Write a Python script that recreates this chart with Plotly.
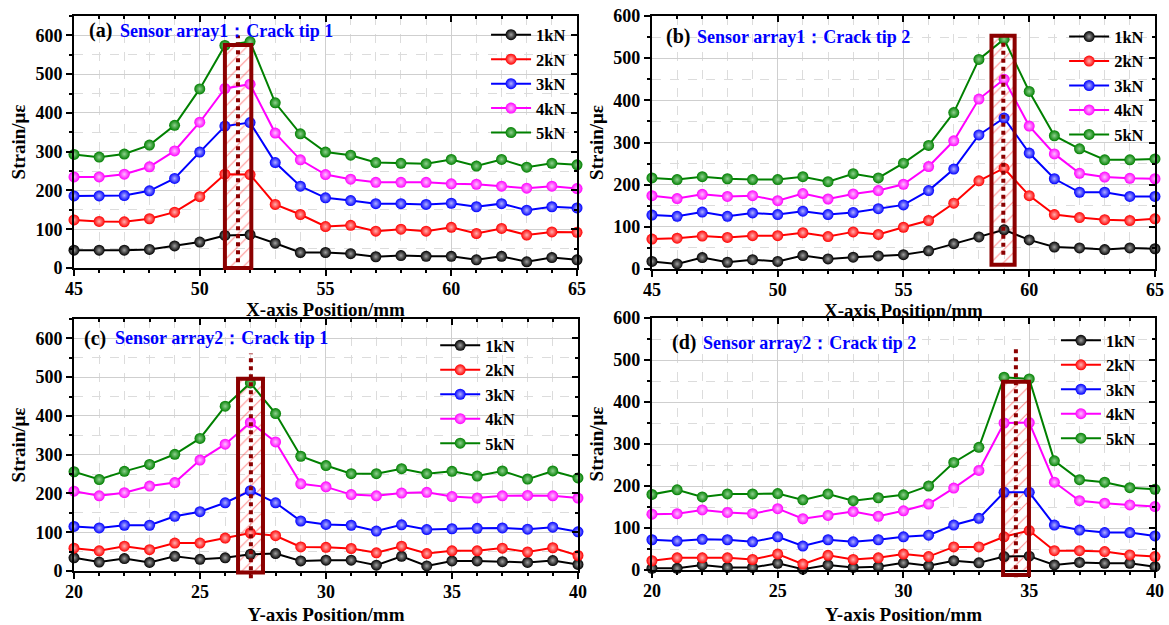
import plotly.graph_objects as go

# ---------------- data ----------------
x_a = [45, 46, 47, 48, 49, 50, 51, 52, 53, 54, 55, 56, 57, 58, 59, 60, 61, 62, 63, 64, 65]
x_c = [20, 21, 22, 23, 24, 25, 26, 27, 28, 29, 30, 31, 32, 33, 34, 35, 36, 37, 38, 39, 40]

loads = ["1kN", "2kN", "3kN", "4kN", "5kN"]

a_1kN = [46, 46, 46, 48, 57, 67, 84, 86, 64, 40, 40, 37, 29, 32, 30, 30, 21, 30, 16, 27, 21]
a_2kN = [124, 120, 119, 127, 144, 184, 242, 241, 164, 138, 107, 110, 95, 100, 95, 105, 89, 102, 85, 93, 92]
a_3kN = [186, 186, 187, 199, 231, 299, 366, 375, 272, 211, 181, 174, 166, 166, 164, 167, 158, 166, 149, 158, 155]
a_4kN = [235, 235, 242, 261, 302, 376, 463, 474, 348, 279, 241, 229, 221, 221, 221, 217, 216, 211, 206, 211, 205]
a_5kN = [293, 286, 294, 317, 368, 462, 574, 584, 426, 346, 299, 291, 272, 270, 269, 280, 263, 280, 260, 270, 266]

b_1kN = [18, 12, 27, 16, 22, 18, 32, 24, 28, 31, 34, 43, 60, 76, 93, 69, 52, 50, 46, 50, 48]
b_2kN = [71, 73, 78, 75, 79, 79, 86, 77, 88, 82, 99, 115, 156, 209, 239, 174, 129, 122, 117, 115, 119]
b_3kN = [128, 125, 135, 125, 133, 129, 137, 129, 134, 143, 152, 186, 237, 318, 358, 275, 214, 182, 182, 172, 172]
b_4kN = [174, 167, 177, 172, 174, 162, 179, 166, 178, 186, 201, 243, 304, 403, 450, 339, 273, 227, 218, 215, 214]
b_5kN = [216, 212, 219, 214, 212, 212, 219, 207, 226, 216, 251, 293, 371, 497, 545, 421, 316, 285, 259, 259, 261]

c_1kN = [34, 23, 32, 22, 38, 30, 34, 43, 45, 26, 28, 28, 15, 38, 13, 26, 26, 24, 22, 27, 17]
c_2kN = [59, 52, 64, 55, 72, 72, 85, 98, 91, 62, 61, 58, 47, 64, 45, 52, 52, 59, 49, 60, 40]
c_3kN = [115, 111, 118, 118, 141, 153, 176, 207, 176, 129, 120, 118, 103, 119, 107, 109, 110, 111, 108, 113, 101]
c_4kN = [206, 194, 202, 219, 228, 286, 327, 383, 333, 225, 217, 197, 194, 201, 203, 192, 188, 194, 195, 194, 188]
c_5kN = [256, 236, 257, 275, 301, 342, 425, 485, 406, 296, 272, 251, 251, 264, 251, 257, 245, 258, 237, 258, 240]

d_1kN = [4, 4, 12, 6, 6, 16, 2, 12, 6, 8, 17, 10, 22, 17, 32, 33, 12, 18, 16, 16, 8]
d_2kN = [22, 29, 29, 29, 25, 38, 14, 35, 25, 29, 38, 32, 55, 55, 79, 94, 46, 46, 44, 36, 32]
d_3kN = [72, 69, 73, 72, 67, 79, 57, 72, 67, 72, 79, 83, 107, 123, 185, 185, 107, 95, 89, 89, 81]
d_4kN = [133, 134, 143, 137, 134, 146, 122, 130, 139, 128, 141, 157, 195, 237, 350, 351, 209, 165, 159, 155, 151]
d_5kN = [180, 191, 174, 181, 181, 182, 167, 181, 165, 172, 179, 200, 256, 292, 459, 455, 260, 215, 209, 196, 192]

# highlighted crack-tip windows: [x0, x1, y_bottom, y_top]; dotted line [x, y_bottom, y_top]
box_a = [51.0, 52.05, 0, 575]
box_b = [58.5, 59.42, 10, 553]
box_c = [26.51, 27.5, -4, 496]
box_d = [33.96, 34.99, -12, 448]
dot_a = [51.52, 15, 600]
dot_b = [58.97, 34, 545]
dot_c = [27.02, -19, 561]
dot_d = [34.47, -17, 526]

labels = ["(a)", "(b)", "(c)", "(d)"]
subtitles = ["Sensor array1：Crack tip 1", "Sensor array1：Crack tip 2",
             "Sensor array2：Crack tip 1", "Sensor array2：Crack tip 2"]
x_titles = ["X-axis Position/mm", "X-axis Position/mm", "Y-axis Position/mm", "Y-axis Position/mm"]
y_title = "Strain/\u03bc\u03b5"

# ---------------- styling ----------------
FONT = "Liberation Serif"
colors = ["#000000", "#FF0000", "#0000FF", "#FF00FF", "#008000"]
centers = ["#a0a0a0", "#ffb0b0", "#b0b0ff", "#ffc0ff", "#90d090"]
BOX = "#8B0000"

panels = [
    dict(x=x_a, s=[a_1kN, a_2kN, a_3kN, a_4kN, a_5kN], xr=[45, 65], yr=[0, 650],
         dom_x=[0.0633, 0.4936], dom_y=[0.5712, 0.9744], box=box_a, dot=dot_a,
         lab=(13, 15), leg=(0.4885, 0.972), xst=0),
    dict(x=x_a, s=[b_1kN, b_2kN, b_3kN, b_4kN, b_5kN], xr=[45, 65], yr=[0, 600],
         dom_x=[0.5577, 0.9880], dom_y=[0.5696, 0.9744], box=box_b, dot=dot_b,
         lab=(12, 21), leg=(0.9830, 0.969), xst=0),
    dict(x=x_c, s=[c_1kN, c_2kN, c_3kN, c_4kN, c_5kN], xr=[20, 40], yr=[0, 650],
         dom_x=[0.0633, 0.4944], dom_y=[0.0864, 0.4896], box=box_c, dot=dot_c,
         lab=(8, 19), leg=(0.4450, 0.475), xst=10),
    dict(x=x_c, s=[d_1kN, d_2kN, d_3kN, d_4kN, d_5kN], xr=[20, 40], yr=[0, 600],
         dom_x=[0.5577, 0.9880], dom_y=[0.0880, 0.4912], box=box_d, dot=dot_d,
         lab=(18, 25), leg=(0.9760, 0.483), xst=10),
]

fig = go.Figure()
shapes = []
annotations = []
layout = dict(
    width=1169, height=625, margin=dict(l=0, r=0, t=0, b=0, autoexpand=False),
    paper_bgcolor="white", plot_bgcolor="white",
    font=dict(family=FONT, color="black"),
)

for i, p in enumerate(panels, start=1):
    xa = "x" if i == 1 else f"x{i}"
    ya = "y" if i == 1 else f"y{i}"
    leg = "legend" if i == 1 else f"legend{i}"
    x0, x1, yb, yt = p["box"]
    # hatched window
    fig.add_trace(go.Scatter(
        x=[x0, x1, x1, x0, x0], y=[yb, yb, yt, yt, yb], mode="lines",
        fill="toself", fillcolor="rgba(0,0,0,0)",
        fillpattern=dict(shape="/", fgcolor="#FF2020", bgcolor="rgba(0,0,0,0)",
                         size=9, solidity=0.12),
        line=dict(width=0, color="rgba(0,0,0,0)"),
        showlegend=False, hoverinfo="skip", xaxis=xa, yaxis=ya))
    for k, (name, vals) in enumerate(zip(loads, p["s"])):
        fig.add_trace(go.Scatter(
            x=p["x"], y=vals, mode="lines+markers", name=name,
            line=dict(color=colors[k], width=2),
            marker=dict(size=11, color=colors[k], line=dict(width=0),
                        gradient=dict(type="radial", color=centers[k])),
            cliponaxis=False, legend=leg, xaxis=xa, yaxis=ya))
    # overlay axes for inward mirrored ticks
    fig.add_trace(go.Scatter(x=[None], y=[None], showlegend=False, hoverinfo="skip",
                             xaxis=f"x{i+4}", yaxis=f"y{i+4}"))

    ymax = p["yr"][1]
    shapes.append(dict(type="rect", xref=xa, yref=f"{ya} domain",
                       x0=x0, x1=x1, y0=yb / ymax, y1=yt / ymax,
                       line=dict(color=BOX, width=4), fillcolor="rgba(0,0,0,0)", layer="above"))
    dx, dyb, dyt = p["dot"]
    shapes.append(dict(type="line", xref=xa, yref=f"{ya} domain",
                       x0=dx, x1=dx, y0=dyb / ymax, y1=dyt / ymax,
                       line=dict(color=BOX, width=4, dash="4px,4px"), layer="above"))

    common_grid = dict(showgrid=True, gridcolor="#cfcfcf", gridwidth=1, zeroline=False,
                       automargin=False)
    layout[f"xaxis{'' if i == 1 else i}"] = dict(
        domain=p["dom_x"], anchor=ya, range=p["xr"], dtick=5, tick0=0,
        ticks="outside", ticklen=6, tickwidth=2, tickcolor="black",
        showline=True, linecolor="black", linewidth=2, mirror=True,
        ticklabelstandoff=-3,
        tickfont=dict(family=FONT, size=18, color="black", weight="bold"),
        title=dict(text=x_titles[i - 1], standoff=p["xst"],
                   font=dict(family=FONT, size=19, color="black", weight="bold")),
        minor=dict(dtick=1, ticks="outside", ticklen=3, tickwidth=1.5, tickcolor="black",
                   showgrid=True, gridcolor="#dcdcdc", griddash="dash", gridwidth=1),
        **common_grid)
    layout[f"yaxis{'' if i == 1 else i}"] = dict(
        domain=p["dom_y"], anchor=xa, range=p["yr"], dtick=100, tick0=0,
        ticks="outside", ticklen=6, tickwidth=2, tickcolor="black",
        showline=True, linecolor="black", linewidth=2, mirror=True,
        tickfont=dict(family=FONT, size=18, color="black", weight="bold"),
        title=dict(text=y_title, standoff=5,
                   font=dict(family=FONT, size=19, color="black", weight="bold")),
        minor=dict(dtick=50, ticks="outside", ticklen=3, tickwidth=1.5, tickcolor="black",
                   showgrid=True, gridcolor="#dcdcdc", griddash="dash", gridwidth=1),
        **common_grid)
    layout[f"xaxis{i+4}"] = dict(
        overlaying=xa, anchor=f"y{i+4}", side="top", range=p["xr"], dtick=5, tick0=0,
        ticks="inside", ticklen=6, tickwidth=2, tickcolor="black", showticklabels=False,
        showgrid=False, zeroline=False, showline=False, automargin=False,
        minor=dict(dtick=1, ticks="inside", ticklen=3, tickwidth=1.5, tickcolor="black", showgrid=False))
    layout[f"yaxis{i+4}"] = dict(
        overlaying=ya, anchor=f"x{i+4}", side="right", range=p["yr"], dtick=100, tick0=0,
        ticks="inside", ticklen=6, tickwidth=2, tickcolor="black", showticklabels=False,
        showgrid=False, zeroline=False, showline=False, automargin=False,
        minor=dict(dtick=50, ticks="inside", ticklen=3, tickwidth=1.5, tickcolor="black", showgrid=False))

    lx, ly = p["lab"]
    annotations.append(dict(
        xref=f"{xa} domain", yref=f"{ya} domain", x=0, y=1, xanchor="left", yanchor="middle",
        xshift=lx, yshift=-ly, showarrow=False,
        text=f"<b>{labels[i-1]}</b>", font=dict(family=FONT, size=20, color="black")))
    annotations.append(dict(
        xref=f"{xa} domain", yref=f"{ya} domain", x=0, y=1, xanchor="left", yanchor="middle",
        xshift=lx + 31, yshift=-ly, showarrow=False,
        text=f"<b>{subtitles[i-1]}</b>", font=dict(family=FONT, size=18, color="#0000FF")))

    lgx, lgy = p["leg"]
    layout[leg] = dict(
        x=lgx, y=lgy, xanchor="right", yanchor="top", bgcolor="rgba(0,0,0,0)",
        borderwidth=0, tracegroupgap=0, itemwidth=40,
        font=dict(family=FONT, size=16.5, color="black", weight="bold"))

layout["shapes"] = shapes
layout["annotations"] = annotations
layout["showlegend"] = True
fig.update_layout(**layout)

fig.write_html("out.html")
